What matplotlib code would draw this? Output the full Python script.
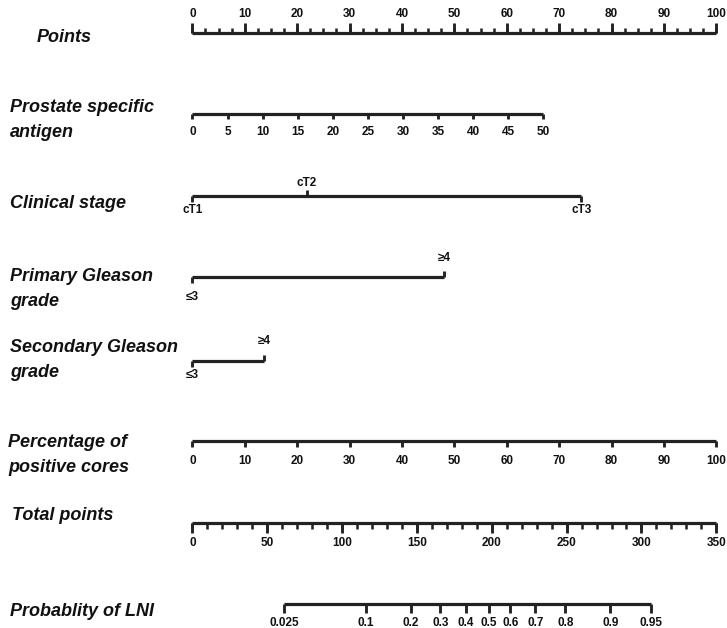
import matplotlib
matplotlib.use('Agg')
import matplotlib.pyplot as plt
import matplotlib.transforms as mtransforms
import numpy as np

plt.rcParams['font.family'] = ['Liberation Sans', 'DejaVu Sans']

# values
points_major = list(range(0, 101, 10))
points_minor = list(np.arange(0, 100.1, 2.5))

psa_values = [0, 5, 10, 15, 20, 25, 30, 35, 40, 45, 50]
psa_points_at_50 = 67.0

stage_labels = ['cT1', 'cT2', 'cT3']
stage_points = [0, 21.8, 74.2]

primary_labels = ['≤3', '≥4']
primary_points = [0, 48.0]

secondary_labels = ['≤3', '≥4']
secondary_points = [0, 13.7]

cores_values = [0, 10, 20, 30, 40, 50, 60, 70, 80, 90, 100]
cores_points_at_100 = 100.0

total_major = [0, 50, 100, 150, 200, 250, 300, 350]
total_minor = list(range(0, 351, 10))
total_max = 350

prob_labels = ['0.025', '0.1', '0.2', '0.3', '0.4', '0.5', '0.6', '0.7', '0.8', '0.9', '0.95']
prob_total_points = [61.4, 116.0, 146.1, 165.6, 182.8, 197.9, 212.4, 229.1, 249.1, 279.2, 306.6]

row_names = ['Points', 'Prostate specific\nantigen', 'Clinical stage', 'Primary Gleason\ngrade',
             'Secondary Gleason\ngrade', 'Percentage of\npositive cores', 'Total points', 'Probablity of LNI']

LC = '#222222'
LW = 2.3

fig = plt.figure(figsize=(7.27, 6.28), dpi=100)
ax = fig.add_axes([0, 0, 1, 1])
# x in "points" units, y in pixel rows
px_per_pt = 5.239
x0 = 192.4
ax.set_xlim(-x0 / px_per_pt, (727 - x0) / px_per_pt)
ax.set_ylim(628, 0)
ax.axis('off')


def scale(y, xs, labels, up, ticklen, lab_off, minor=None, minorlen=0, fs=8.5, dirs=None, offs=None):
    ax.plot([min(xs), max(xs)], [y, y], color=LC, lw=LW, solid_capstyle='butt')
    if minor is not None:
        for m in minor:
            d = -minorlen if up else minorlen
            ax.plot([m, m], [y, y + d], color=LC, lw=LW * 0.8, solid_capstyle='butt')
    for i, (x, lab) in enumerate(zip(xs, labels)):
        u = dirs[i] if dirs is not None else up
        o = offs[i] if offs is not None else lab_off
        d = -ticklen if u else ticklen
        ax.plot([x, x], [y, y + d], color=LC, lw=LW * 0.9, solid_capstyle='butt')
        ax.text(x, y - o if u else y + o, lab, ha='center', va='center', fontsize=fs,
                fontweight='bold', color='#111111')


# Points
scale(33, points_major, [str(v) for v in points_major], True, 10, 19,
      minor=points_minor, minorlen=5)

# PSA
scale(114, [v * psa_points_at_50 / 50 for v in psa_values], [str(v) for v in psa_values],
      False, 5, 18)

# Clinical stage
scale(196, stage_points, stage_labels, False, 6, 14,
      dirs=[False, True, False], offs=[14, 13, 14])

# Primary Gleason
scale(277, primary_points, primary_labels, False, 6, 20,
      dirs=[False, True], offs=[20, 19])

# Secondary Gleason
scale(361, secondary_points, secondary_labels, False, 6, 14,
      dirs=[False, True], offs=[14, 20])

# Percentage of positive cores
scale(441, [v * cores_points_at_100 / 100 for v in cores_values], [str(v) for v in cores_values],
      False, 6, 20)

# Total points
scale(523, [v * 100 / total_max for v in total_major], [str(v) for v in total_major],
      False, 10, 20, minor=[v * 100 / total_max for v in total_minor], minorlen=6)

# Probability
scale(604, [v * 100 / total_max for v in prob_total_points], prob_labels, False, 9, 19)

# row titles
title_y = [37, 120, 204, 289, 360, 455, 515, 612]
title_x = [37, 10, 10, 10, 10, 8, 12, 10]
trans = mtransforms.blended_transform_factory(ax.transAxes, ax.transData)
for name, yy, xx in zip(row_names, title_y, title_x):
    ax.text(xx / 727, yy, name, transform=trans, ha='left', va='center', fontsize=13,
            fontweight='bold', fontstyle='italic', color='#111111', linespacing=1.55)

fig.savefig('out.png', dpi=100)
